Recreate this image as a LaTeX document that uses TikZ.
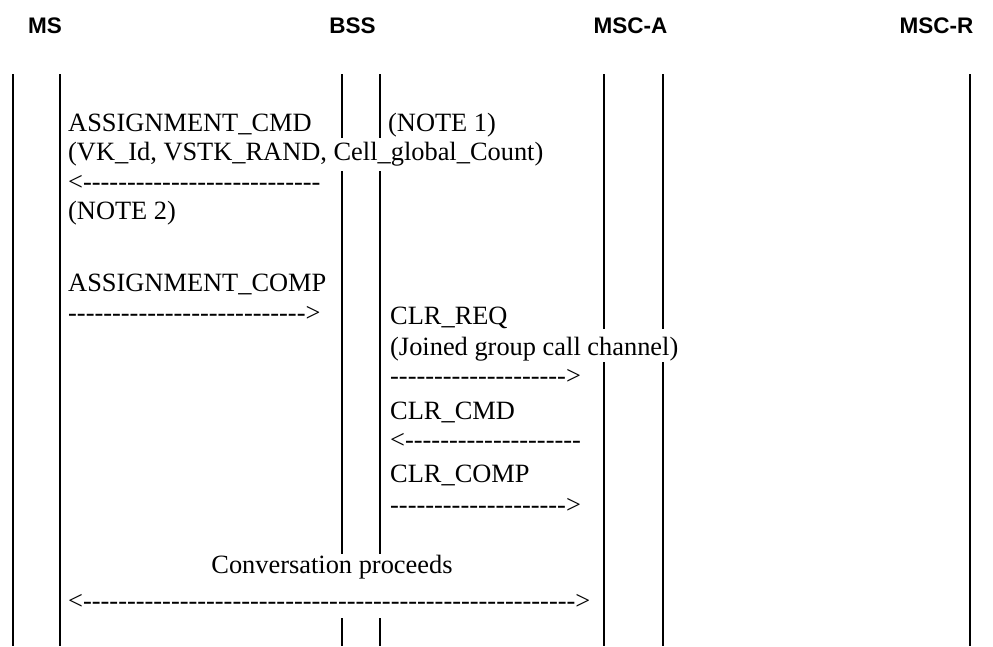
\documentclass[tikz,border=0pt]{standalone}
\usepackage{fontspec}
\setmainfont{Liberation Serif}[Ligatures=TeXOff]
\newfontfamily\hdrfont{Liberation Sans}[Ligatures=TeXOff]
\ExplSyntaxOn
\cs_new:Npn \hyph #1 {\prg_replicate:nn{#1}{-}}
\ExplSyntaxOff
\begin{document}
\begin{tikzpicture}[x=1pt,y=-1pt,
  msg/.style={anchor=base west, inner sep=0pt, font=\fontsize{26.4}{30}\selectfont},
  hdr/.style={anchor=base, inner sep=0pt, font=\hdrfont\bfseries\fontsize{22.5}{26}\selectfont},
  life/.style={line width=2pt}]
\useasboundingbox[fill=white] (0,0) rectangle (993,646);
% headers
\node[hdr] (hMS) at (45,33) {MS};
\node[hdr] (hBSS) at (352.5,33) {BSS};
\node[hdr] (hMSCA) at (630.5,33) {MSC-A};
\node[hdr] (hMSCR) at (936.5,33) {MSC-R};
% lifelines
\draw[life] (12.5,74) -- (12.5,646);
\draw[life] (60,74) -- (60,646);
\draw[life] (342,74) -- (342,138) (342,171) -- (342,554) (342,618) -- (342,646);
\draw[life] (380,74) -- (380,138) (380,171) -- (380,554) (380,618) -- (380,646);
\draw[life] (604,74) -- (604,329) (604,362) -- (604,646);
\draw[life] (663,74) -- (663,329) (663,362) -- (663,646);
\draw[life] (970,74) -- (970,646);
% messages
\node[msg] (t1) at (68,131) {ASSIGNMENT\_CMD};
\node[msg] (n1) at (388,131) {(NOTE 1)};
\node[msg] (t2) at (68,160) {(VK\_Id, VSTK\_RAND, Cell\_global\_Count)};
\node[msg] (a1) at (68,190) {<\hyph{27}};
\node[msg] (n2) at (68,219) {(NOTE 2)};
\node[msg] (t3) at (68,291) {ASSIGNMENT\_COMP};
\node[msg] (a2) at (68,321) {\hyph{27}>};
\node[msg] (t4) at (390,324) {CLR\_REQ};
\node[msg] (t5) at (390,355) {(Joined group call channel)};
\node[msg] (a3) at (390,384) {\hyph{20}>};
\node[msg] (t6) at (390,419) {CLR\_CMD};
\node[msg] (a4) at (390,448) {<\hyph{20}};
\node[msg] (t7) at (390,482) {CLR\_COMP};
\node[msg] (a5) at (390,513) {\hyph{20}>};
\node[msg,anchor=base] (t8) at (332,573) {Conversation proceeds};
\node[msg] (a6) at (68,609) {<\hyph{56}>};
\end{tikzpicture}
\end{document}
